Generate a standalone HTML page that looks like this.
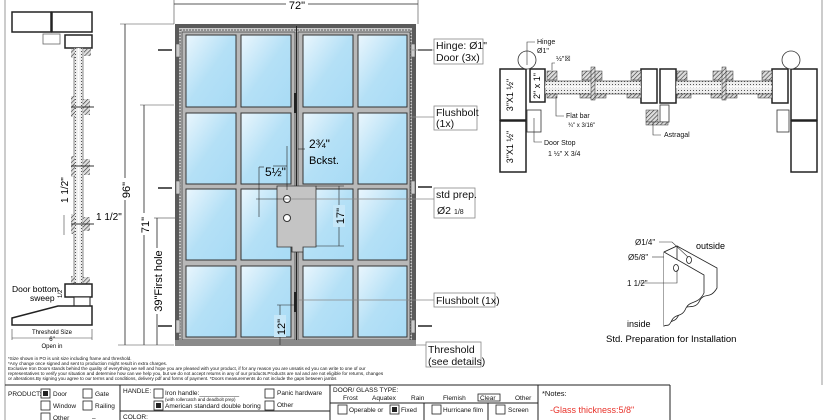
<!DOCTYPE html>
<html><head><meta charset="utf-8"><style>
html,body{margin:0;padding:0;background:#fff;}
svg{display:block;font-family:"Liberation Sans",sans-serif;}
</style></head><body>
<svg width="826" height="420" viewBox="0 0 826 420" xmlns="http://www.w3.org/2000/svg">
<defs>
<linearGradient id="gl" x1="0" y1="0" x2="1" y2="1">
<stop offset="0" stop-color="#eaf6fd"/><stop offset="0.5" stop-color="#b4e0f6"/><stop offset="1" stop-color="#a8dbf5"/>
</linearGradient>
<pattern id="ht" width="3" height="3" patternUnits="userSpaceOnUse" patternTransform="rotate(45)">
<rect width="3" height="3" fill="#ddd"/><line x1="0" y1="0" x2="0" y2="3" stroke="#333" stroke-width="1.2"/>
</pattern>
<pattern id="dt" width="3" height="3" patternUnits="userSpaceOnUse">
<rect width="3" height="3" fill="#eee"/><rect width="1" height="1" fill="#555"/>
</pattern>
</defs>
<!-- page borders -->
<line x1="5" y1="0" x2="5" y2="420" stroke="#999" stroke-width="1"/>
<line x1="822" y1="0" x2="822" y2="385" stroke="#999" stroke-width="1"/>

<!-- 72 dimension -->
<line x1="174" y1="4" x2="418" y2="4" stroke="#222" stroke-width="0.8"/>
<line x1="174" y1="0" x2="174" y2="24" stroke="#444" stroke-width="0.6"/>
<line x1="418" y1="0" x2="418" y2="24" stroke="#444" stroke-width="0.6"/>
<rect x="286" y="0" width="22" height="8" fill="#fff"/>
<text x="297" y="9" font-size="11" text-anchor="middle">72"</text>

<!-- left vertical section -->
<rect x="12" y="12" width="39" height="20" fill="#fff" stroke="#222" stroke-width="1.5"/>
<rect x="52" y="12" width="40" height="20" fill="#fff" stroke="#222" stroke-width="1.5"/>
<rect x="43" y="34" width="17" height="10" fill="#fff" stroke="#666" stroke-width="0.8"/>
<rect x="65" y="35" width="27" height="13" fill="#fff" stroke="#222" stroke-width="1.5"/>
<rect x="74" y="48" width="9" height="240" fill="url(#dt)" stroke="#444" stroke-width="0.6"/>
<line x1="78.5" y1="48" x2="78.5" y2="288" stroke="#fff" stroke-width="1.5"/>
<rect x="71" y="49" width="4" height="9" fill="url(#ht)"/><rect x="84" y="49" width="7" height="7" fill="url(#ht)"/>
<rect x="71" y="96" width="4" height="21" fill="url(#ht)"/><rect x="83" y="99" width="7" height="16" fill="url(#ht)"/>
<line x1="71" y1="107" x2="94" y2="107" stroke="#333"/>
<rect x="71" y="156" width="4" height="21" fill="url(#ht)"/><rect x="83" y="159" width="7" height="16" fill="url(#ht)"/>
<line x1="71" y1="166" x2="94" y2="166" stroke="#333"/>
<rect x="71" y="214" width="4" height="20" fill="url(#ht)"/><rect x="83" y="217" width="7" height="14" fill="url(#ht)"/>
<line x1="71" y1="224" x2="94" y2="224" stroke="#333"/>
<rect x="71" y="276" width="4" height="9" fill="url(#ht)"/><rect x="83" y="277" width="7" height="7" fill="url(#ht)"/>
<line x1="64" y1="215" x2="64" y2="235" stroke="#444" stroke-width="0.6"/>
<text x="68" y="203" font-size="10" transform="rotate(-90 68 203)">1 1/2"</text>
<text x="96" y="220" font-size="10">1 1/2"</text>
<rect x="65" y="284" width="27" height="13" fill="#fff" stroke="#222" stroke-width="1.5"/>
<rect x="74" y="297" width="16" height="9" fill="#fff" stroke="#222" stroke-width="1"/>
<polygon points="12,318 58,306 92,306 92,325 12,325" fill="#fff" stroke="#222" stroke-width="1.5"/>
<text x="12" y="292" font-size="8.5">Door bottom</text>
<text x="30" y="301" font-size="8.5">sweep</text>
<text x="62" y="298" font-size="6" transform="rotate(-90 62 298)">1/2</text>
<line x1="12" y1="329" x2="12" y2="340" stroke="#444" stroke-width="0.6"/>
<line x1="92" y1="329" x2="92" y2="340" stroke="#444" stroke-width="0.6"/>
<line x1="12" y1="338" x2="92" y2="338" stroke="#444" stroke-width="0.6"/>
<text x="52" y="334" font-size="6" text-anchor="middle">Threshold Size</text>
<text x="52" y="341" font-size="6" text-anchor="middle">6"</text>
<text x="52" y="348" font-size="6" text-anchor="middle">Open in</text>

<!-- vertical dims -->
<line x1="120" y1="24" x2="174" y2="24" stroke="#444" stroke-width="0.6"/>
<line x1="125" y1="24" x2="125" y2="345" stroke="#222" stroke-width="0.8"/>
<rect x="119" y="178" width="12" height="22" fill="#fff"/>
<text x="130" y="190" font-size="11" text-anchor="middle" transform="rotate(-90 130 190)">96"</text>
<line x1="140" y1="105" x2="174" y2="105" stroke="#444" stroke-width="0.6"/>
<line x1="144" y1="105" x2="144" y2="345" stroke="#222" stroke-width="0.8"/>
<rect x="138" y="213" width="12" height="22" fill="#fff"/>
<text x="149" y="225" font-size="11" text-anchor="middle" transform="rotate(-90 149 225)">71"</text>
<line x1="154" y1="218" x2="287" y2="218" stroke="#222" stroke-width="0.6"/>
<line x1="157" y1="218" x2="157" y2="345" stroke="#222" stroke-width="0.8"/>
<rect x="151" y="248" width="12" height="66" fill="#fff"/>
<text x="162" y="281" font-size="11" text-anchor="middle" transform="rotate(-90 162 281)">39"First hole</text>
<line x1="118" y1="345" x2="174" y2="345" stroke="#444" stroke-width="0.6"/>

<!-- door frame -->
<rect x="175" y="24" width="241" height="322" fill="#5a5a5a"/>
<rect x="179" y="28" width="233" height="318" fill="#c8c8c8"/>
<rect x="180" y="30" width="231" height="314" fill="none" stroke="#333" stroke-dasharray="2,1" stroke-width="0.8"/>
<rect x="182" y="32" width="113" height="308" fill="#b8b8b8" stroke="#444" stroke-width="0.8"/>
<rect x="298" y="32" width="112" height="308" fill="#b8b8b8" stroke="#444" stroke-width="0.8"/>
<g fill="url(#gl)" stroke="#333" stroke-width="1">
<rect x="186" y="35" width="50" height="72"/><rect x="241" y="35" width="50" height="72"/><rect x="303" y="35" width="50" height="72"/><rect x="358" y="35" width="49" height="72"/>
<rect x="186" y="113" width="50" height="71"/><rect x="241" y="113" width="50" height="71"/><rect x="303" y="113" width="50" height="71"/><rect x="358" y="113" width="49" height="71"/>
<rect x="186" y="189" width="50" height="71"/><rect x="241" y="189" width="50" height="71"/><rect x="303" y="189" width="50" height="71"/><rect x="358" y="189" width="49" height="71"/>
<rect x="186" y="266" width="50" height="71"/><rect x="241" y="266" width="50" height="71"/><rect x="303" y="266" width="50" height="71"/><rect x="358" y="266" width="49" height="71"/>
</g>
<line x1="296.5" y1="26" x2="296.5" y2="346" stroke="#222" stroke-width="1"/>
<rect x="175" y="340" width="241" height="6" fill="#8a8a8a"/>
<!-- lock plate -->
<polygon points="277,186 316,186 316,247 303,247 303,252 292,252 292,247 277,247" fill="#c4c4c4" stroke="#333" stroke-width="0.8"/>
<circle cx="287" cy="199" r="3.5" fill="#fff" stroke="#333"/>
<circle cx="287" cy="218" r="3.5" fill="#fff" stroke="#333"/>
<!-- flushbolts -->
<rect x="294" y="93" width="3" height="20" fill="#222"/>
<rect x="294" y="292" width="3" height="20" fill="#222"/>
<!-- hinges -->
<g fill="#ccc" stroke="#555" stroke-width="0.6">
<rect x="176" y="44" width="4" height="13"/><rect x="176" y="181" width="4" height="13"/><rect x="176" y="320" width="4" height="13"/>
<rect x="411" y="44" width="4" height="13"/><rect x="411" y="181" width="4" height="13"/><rect x="411" y="320" width="4" height="13"/>
</g>
<g stroke="#222" stroke-width="1.5">
<line x1="158" y1="50" x2="172" y2="50"/><line x1="158" y1="188" x2="172" y2="188"/><line x1="158" y1="326" x2="172" y2="326"/>
<line x1="418" y1="50" x2="432" y2="50"/><line x1="418" y1="187" x2="432" y2="187"/><line x1="418" y1="326" x2="432" y2="326"/>
</g>
<!-- inner dims -->
<line x1="273" y1="166" x2="287" y2="166" stroke="#222" stroke-width="0.6"/>
<line x1="287" y1="146" x2="287" y2="190" stroke="#222" stroke-width="0.6"/>
<line x1="259" y1="167" x2="259" y2="217" stroke="#222" stroke-width="0.6"/>
<line x1="259" y1="167" x2="264" y2="167" stroke="#222" stroke-width="0.6"/>
<line x1="256" y1="199" x2="287" y2="199" stroke="#222" stroke-width="0.6"/>
<text x="265" y="176" font-size="12">5½"</text>
<line x1="298" y1="149" x2="305" y2="149" stroke="#222" stroke-width="0.6"/>
<text x="309" y="148" font-size="12">2¾"</text>
<text x="309" y="164" font-size="11">Bckst.</text>
<line x1="316" y1="186" x2="344" y2="186" stroke="#222" stroke-width="0.6"/>
<line x1="316" y1="246" x2="344" y2="246" stroke="#222" stroke-width="0.6"/>
<line x1="339" y1="186" x2="339" y2="246" stroke="#222" stroke-width="0.6"/>
<rect x="333" y="205" width="12" height="22" fill="#c6e7f8"/>
<text x="344" y="216" font-size="11" text-anchor="middle" transform="rotate(-90 344 216)">17"</text>
<line x1="277" y1="305" x2="295" y2="305" stroke="#222" stroke-width="0.6"/>
<line x1="280" y1="305" x2="280" y2="345" stroke="#222" stroke-width="0.6"/>
<rect x="274" y="315" width="12" height="22" fill="#c6e7f8"/>
<text x="285" y="327" font-size="11" text-anchor="middle" transform="rotate(-90 285 327)">12"</text>

<!-- callouts -->
<g stroke="#888" stroke-width="0.8" fill="#fff">
<line x1="412" y1="50" x2="434" y2="50"/><rect x="434" y="39" width="49" height="25"/>
<line x1="410" y1="117" x2="434" y2="117"/><rect x="434" y="106" width="43" height="24"/>
<line x1="287" y1="199" x2="434" y2="199"/><rect x="434" y="188" width="41" height="30"/>
<line x1="297" y1="300" x2="434" y2="300"/><rect x="434" y="293" width="61" height="14"/>
<line x1="416" y1="345" x2="426" y2="345"/><rect x="426" y="342" width="55" height="25"/>
</g>
<g font-size="10.5" fill="#111">
<text x="436" y="49">Hinge: Ø1"</text><text x="436" y="61">Door (3x)</text>
<text x="436" y="116">Flushbolt</text><text x="436" y="127">(1x)</text>
<text x="436" y="198">std prep.</text><text x="437" y="214">Ø2 <tspan font-size="7">1/8</tspan></text>
<text x="436" y="304">Flushbolt (1x)</text>
<text x="428" y="353">Threshold</text><text x="428" y="365">(see details)</text>
</g>

<!-- horizontal section -->
<g stroke="#222" stroke-width="1.5" fill="#fff">
<rect x="500" y="69" width="26" height="51"/><rect x="500" y="121" width="26" height="51"/>
<rect x="530" y="69" width="15" height="33"/>
<rect x="641" y="69" width="16" height="34"/><rect x="660" y="69" width="16" height="34"/>
<rect x="772" y="69" width="16" height="34"/>
<rect x="791" y="69" width="26" height="51"/><rect x="791" y="121" width="26" height="51"/>
</g>
<g stroke="#333" stroke-width="0.8" fill="#fff">
<rect x="527" y="110" width="14" height="22"/>
<rect x="777" y="110" width="12" height="22"/>
<circle cx="527" cy="60" r="9"/><circle cx="791" cy="60" r="9"/>
<rect x="660" y="105" width="9" height="17"/>
</g>
<rect x="545" y="81" width="96" height="13" fill="url(#dt)" stroke="#333" stroke-width="0.6"/>
<rect x="676" y="81" width="96" height="13" fill="url(#dt)" stroke="#333" stroke-width="0.6"/>
<line x1="545" y1="87" x2="641" y2="87" stroke="#fff" stroke-width="1.5"/>
<line x1="676" y1="87" x2="772" y2="87" stroke="#fff" stroke-width="1.5"/>
<g fill="url(#ht)" stroke="#333" stroke-width="0.5">
<rect x="547" y="71" width="10" height="9"/><rect x="582" y="71" width="20" height="9"/><rect x="631" y="71" width="10" height="9"/>
<rect x="547" y="94" width="10" height="4"/><rect x="580" y="94" width="26" height="4"/><rect x="627" y="94" width="14" height="4"/>
<rect x="677" y="71" width="10" height="9"/><rect x="713" y="71" width="20" height="9"/><rect x="762" y="71" width="10" height="9"/>
<rect x="677" y="94" width="14" height="4"/><rect x="711" y="94" width="26" height="4"/><rect x="758" y="94" width="14" height="4"/>
<rect x="646" y="110" width="12" height="12"/><rect x="646" y="122" width="22" height="3"/>
<rect x="591" y="67" width="4" height="33"/><rect x="722" y="67" width="4" height="33"/>
</g>
<text x="513" y="95" font-size="9" text-anchor="middle" transform="rotate(-90 513 95)">3"X1 ½"</text>
<text x="513" y="147" font-size="9" text-anchor="middle" transform="rotate(-90 513 147)">3"X1 ½"</text>
<text x="540" y="86" font-size="9" text-anchor="middle" transform="rotate(-90 540 86)">2" x 1"</text>
<g stroke="#333" stroke-width="0.6" fill="none">
<polyline points="527,65 527,42 535,42"/>
<polyline points="556,96 556,116 564,116"/>
<polyline points="534,118 534,142 542,142"/>
<polyline points="653,122 653,135 661,135"/>
<polyline points="552,70 552,63 555,63"/>
</g>
<g font-size="7" fill="#111">
<text x="537" y="44">Hinge</text><text x="537" y="53">Ø1"</text>
<text x="556" y="61">½"☒</text>
<text x="566" y="118">Flat bar</text><text x="568" y="127" font-size="6">¾" x 3/16"</text>
<text x="544" y="145">Door Stop</text><text x="548" y="156">1 ½" X 3/4</text>
<text x="664" y="137">Astragal</text>
</g>

<!-- std preparation -->
<g stroke="#222" stroke-width="0.8" fill="#fff">
<path d="M677,246 L717,268 L717,288 C710,300 705,292 700,300 C695,312 685,302 680,312 C675,325 672,318 664,326 L664,252 Z"/>
<path d="M664,252 L677,246 L677,283"/>
<path d="M664,252 L704,275 L704,293 C698,305 690,300 686,308 C682,318 676,313 672,320 C668,328 668,324 664,326"/>
<ellipse cx="689" cy="260" rx="2.5" ry="3.5"/>
<ellipse cx="676" cy="268" rx="2.5" ry="3.5"/>
</g>
<g stroke="#333" stroke-width="0.6" fill="none">
<polyline points="659,242 672,242 688,257"/>
<polyline points="652,257 664,257"/>
<polyline points="640,283 677,283 677,270"/>
</g>
<g font-size="8" fill="#111">
<text x="635" y="245">Ø1/4"</text><text x="628" y="260">Ø5/8"</text><text x="627" y="286">1 1/2"</text>
</g>
<text x="696" y="249" font-size="9">outside</text>
<text x="627" y="327" font-size="9">inside</text>
<text x="606" y="342" font-size="9.5">Std. Preparation for Installation</text>

<!-- notes text -->
<g font-size="4.6" fill="#111">
<text x="8" y="360">*Size shown in PO is unit size including frame and threshold.</text>
<text x="8" y="365">*Any change once signed and sent to production might result in extra charges.</text>
<text x="8" y="370">Exclusive Iron Doors stands behind the quality of everything we sell and hope you are pleased with your product, if for any reason you are unsatis    ed you can write to one of our</text>
<text x="8" y="375">representatives to verify your situation and determine how can we help you, but we do not accept returns in any of our products.Products are     nal and are not eligible for returns, changes</text>
<text x="8" y="380">or alterations.By signing you agree to our terms and conditions, delivery pdf and forms of payment. *Doors measurements do not include the gaps between jambs</text>
</g>

<!-- table -->
<g stroke="#222" stroke-width="1" fill="none">
<line x1="5" y1="385" x2="670" y2="385"/>
<line x1="670" y1="385" x2="670" y2="420"/>
<line x1="120" y1="385" x2="120" y2="420"/>
<line x1="330" y1="385" x2="330" y2="420"/>
<line x1="538" y1="385" x2="538" y2="420"/>
<line x1="120" y1="411" x2="330" y2="411"/>
<line x1="330" y1="403" x2="538" y2="403"/>
<line x1="424" y1="403" x2="424" y2="420"/>
<line x1="488" y1="403" x2="488" y2="420"/>
</g>
<g stroke="#222" stroke-width="0.8" fill="#fff">
<rect x="41" y="389" width="9" height="9"/><rect x="83" y="389" width="9" height="9"/>
<rect x="41" y="401" width="9" height="9"/><rect x="83" y="401" width="9" height="9"/>
<rect x="41" y="413" width="9" height="9"/>
<rect x="154" y="389" width="9" height="9"/><rect x="154" y="401" width="9" height="9"/>
<rect x="265" y="389" width="9" height="9"/><rect x="265" y="401" width="9" height="9"/>
<rect x="338" y="405" width="9" height="9"/><rect x="390" y="405" width="9" height="9"/>
<rect x="432" y="405" width="9" height="9"/><rect x="496" y="405" width="9" height="9"/>
<rect x="478" y="394" width="22" height="7"/>
</g>
<rect x="43" y="391" width="5" height="5" fill="#222"/>
<rect x="156" y="403" width="5" height="5" fill="#222"/>
<rect x="392" y="407" width="5" height="5" fill="#222"/>
<g font-size="6.5" fill="#111">
<text x="8" y="396">PRODUCT:</text><text x="53" y="396">Door</text><text x="95" y="396">Gate</text>
<text x="53" y="408">Window</text><text x="95" y="408">Railing</text>
<text x="53" y="420">Other</text><text x="92" y="420">–</text>
<text x="123" y="393">HANDLE:</text><text x="165" y="395">Iron handle:___________</text>
<text x="165" y="401" font-size="4.5">(with rollercatch and deadbolt prep)</text>
<text x="165" y="408">American standard double boring</text>
<text x="277" y="395">Panic hardware</text><text x="277" y="407">Other</text>
<text x="123" y="419">COLOR:</text>
<text x="333" y="392">DOOR/ GLASS TYPE:</text>
<text x="343" y="400">Frost</text><text x="372" y="400">Aquatex</text><text x="411" y="400">Rain</text>
<text x="443" y="400">Flemish</text><text x="480" y="400">Clear</text><text x="515" y="400">Other</text>
<text x="349" y="412">Operable  or</text><text x="401" y="412">Fixed</text>
<text x="443" y="412">Hurricane film</text><text x="508" y="412">Screen</text>
<text x="542" y="396" font-size="7.5">*Notes:</text>
</g>
<text x="550" y="413" font-size="9" fill="#e8322a">-Glass thickness:5/8"</text>
</svg>
</body></html>
